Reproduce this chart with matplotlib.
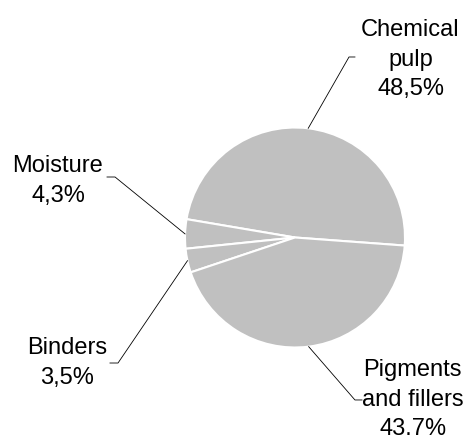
import numpy as np
import matplotlib.pyplot as plt

# --- Dados ---
labels = ["Chemical\npulp", "Moisture", "Binders", "Pigments\nand fillers"]
values = [48.5, 4.3, 3.5, 43.7]
pct_text = ["48,5%", "4,3%", "3,5%", "43.7%"]

# posição dos textos e do "cotovelo" da linha (unidades do raio)
text_pos = [(1.05, 1.617), (-2.155, 0.513), (-2.075, -1.138), (1.07, -1.475)]
knee_pos = [(0.491, 1.641), (-1.636, 0.55), (-1.609, -1.141), (0.545, -1.477)]
tick_end = [(0.545, 1.641), (-1.709, 0.55), (-1.682, -1.141), (0.609, -1.477)]

start = -4.2

plt.rcParams['font.family'] = ['Liberation Sans', 'DejaVu Sans']

fig = plt.figure(figsize=(4.70, 4.38), dpi=100)
ax = fig.add_axes([0, 0, 1, 1])

wedges, _ = ax.pie(values, startangle=start, counterclock=True,
                   colors=["#c0c0c0"] * 4, radius=1.0, center=(0, 0),
                   wedgeprops=dict(edgecolor="white", linewidth=1.5),
                   frame=True)

for w, lab, pct, tp, kp, te in zip(wedges, labels, pct_text, text_pos, knee_pos, tick_end):
    ang = np.deg2rad((w.theta1 + w.theta2) / 2)
    x0, y0 = np.cos(ang), np.sin(ang)
    ax.plot([x0, kp[0], te[0]], [y0, kp[1], te[1]], color="black", lw=0.6)
    ax.text(tp[0], tp[1], lab + "\n" + pct, ha="center", va="center",
            fontsize=17, linespacing=1.45, color="black")

ax.set_xlim(-295 / 110, 175 / 110)
ax.set_ylim(-(438 - 237.5) / 110, 237.5 / 110)
ax.set_aspect("equal")
ax.axis("off")

fig.savefig("out.png", dpi=100)
